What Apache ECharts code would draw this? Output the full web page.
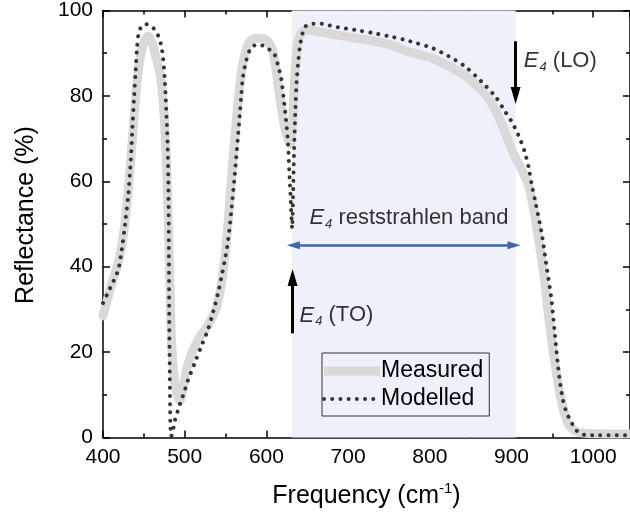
<!DOCTYPE html>
<html>
<head>
<meta charset="utf-8">
<script src="https://cdn.jsdelivr.net/npm/echarts@6/dist/echarts.min.js"></script>
<style>
  html, body { margin: 0; padding: 0; background: #ffffff; }
  #chart { width: 630px; height: 528px; }
</style>
</head>
<body>
<div id="chart"></div>
<script>
// Measured reflectance spectrum (frequency in cm^-1, reflectance in %)
const measuredFreq = [400, 405, 410, 415, 420, 425, 430, 434, 438, 442, 446, 450, 455, 460, 465, 469, 472, 475, 478, 480, 482, 484, 487, 490, 494, 498, 503, 508, 514, 520, 526, 532, 539, 545, 549, 553, 557, 561, 565, 569, 574, 580, 590, 600, 606, 610, 614, 618, 622, 626, 629, 631.5, 633.5, 636, 639, 644, 650, 665, 680, 700, 720, 740, 755, 770, 785, 800, 815, 830, 845, 860, 872, 882, 890, 897, 905, 913, 920, 925, 929, 935, 941, 945, 950, 955, 960, 965, 970, 978, 990, 1045];
const measuredR = [28.5, 32, 35.5, 38.5, 42, 47.5, 56, 65, 75, 84, 89.5, 92.5, 94, 92.5, 89, 86, 82, 75, 63, 50, 35, 22, 14, 10.5, 8.5, 11.5, 16.5, 19.5, 22, 24, 25.5, 27.5, 30.5, 36, 42, 50, 60, 69.5, 78, 85, 90, 92.8, 93.5, 93, 91.5, 88.5, 83, 77.5, 73, 70, 68.7, 72, 80, 88, 93, 95, 95.5, 95, 94.5, 93.8, 93.2, 92.5, 91.8, 90.6, 89.8, 89, 87.8, 86.3, 84.5, 82, 79.3, 76, 72.5, 69, 65.5, 62.5, 59.5, 55.5, 51.5, 44, 36, 29, 21.5, 15, 9.5, 5.5, 3, 1.5, 1, 0.8];

// Modelled reflectance spectrum
const modelledFreq = [400, 405, 410, 415, 419, 423, 427, 431, 434, 436, 438, 440, 441.5, 443.5, 447, 452, 457, 462, 467, 471, 473.5, 475.5, 477.5, 479, 480, 480.6, 481, 481.7, 482.5, 483.5, 486, 488, 492, 496, 500, 504, 512, 520, 528, 535, 541, 546, 550, 553, 557, 561, 565, 569, 571, 575, 581, 589, 598, 604, 610, 614, 618, 622, 626, 628, 630, 631.5, 632.5, 634, 635.5, 637, 639, 641, 644, 648, 656, 667, 677, 687, 697, 713, 734, 752, 770, 783, 803, 823, 843, 863, 880, 892, 900, 908, 916, 921, 925, 929, 937, 943, 949, 953, 957, 960, 963, 967, 972, 977, 982, 990, 1000, 1045];
const modelledR = [31.5, 33.5, 35.5, 37.5, 39.5, 44, 50, 57, 65, 72.5, 79.5, 86, 91, 94.5, 96.2, 96.8, 96.5, 95.8, 94.3, 92, 88.9, 84.2, 76.4, 68.7, 60, 45, 30, 15, 3, 0.3, 2, 4, 6.5, 8.8, 11, 13.4, 17.3, 21.2, 25, 29.5, 34, 38.5, 42.5, 46, 53, 61, 70, 79.5, 84, 88, 91.2, 92, 91.6, 90.8, 89.7, 87.3, 84.2, 78, 70.2, 62.4, 54.7, 49, 56, 68, 77, 83.5, 88, 91.5, 94.5, 96.3, 96.9, 96.9, 96.5, 96.1, 95.8, 95.3, 94.6, 93.9, 93.1, 92.4, 91.2, 89.3, 86.9, 83.4, 79.9, 76.4, 74, 71, 67, 63.2, 59, 55.4, 47.7, 39.9, 32.1, 24.3, 16.5, 12, 8.8, 6, 4, 2.3, 1.2, 0.6, 0.5, 0.5];

// Tick labels
const xTickLabels = [400, 500, 600, 700, 800, 900, 1000];
const yTickLabels = [0, 20, 40, 60, 80, 100];

// E4 mode positions (cm^-1) and the reststrahlen band between them
const e4TO = 631;
const e4LO = 905;

// Annotation arrows: [x1, y1, x2, y2]
const toArrow = [632, 24.4, 632, 37.5];
const loArrow = [905, 92.8, 905, 80.1];
const bandArrow = [633, 45, 903, 45];

// Annotation texts: [x, y, text]
const bandLabel = [774.4, 51.5, '{e|E}{sub|4}{t| reststrahlen band}'];
const toLabel = [640.5, 28.6, '{e|E}{sub|4}{t| (TO)}'];
const loLabel = [915, 88.3, '{e|E}{sub|4}{t| (LO)}'];

const FONT = '"Liberation Sans", Arial, Helvetica, sans-serif';
const DOT_COLOR = '#353535';
const GRAY = '#d9d9d9';
const toPairs = (xs, ys) => xs.map((x, i) => [x, ys[i]]);

const annoRich = {
  e: { fontFamily: FONT, fontSize: 22, fontStyle: 'italic', color: '#000', lineHeight: 26, verticalAlign: 'middle' },
  sub: { fontFamily: FONT, fontSize: 13, fontStyle: 'italic', color: '#000', lineHeight: 26, verticalAlign: 'bottom', padding: [0, 0, 0, 1] },
  t: { fontFamily: FONT, fontSize: 22, color: '#000', lineHeight: 26, verticalAlign: 'middle' }
};

function tickAxis(position, interval, len, showLine) {
  return {
    type: 'value', position: position, min: 400, max: 1045, interval: interval,
    axisLine: { show: showLine, onZero: false, lineStyle: { color: '#000', width: 1.5 } },
    axisTick: { show: true, inside: true, length: len, lineStyle: { color: '#000', width: 1.5 } },
    axisLabel: { show: false }, splitLine: { show: false }
  };
}
function yTickAxis(position, interval, len, showLine) {
  return {
    type: 'value', position: position, min: 0, max: 100, interval: interval,
    axisLine: { show: showLine, onZero: false, lineStyle: { color: '#000', width: 1.5 } },
    axisTick: { show: true, inside: true, length: len, lineStyle: { color: '#000', width: 1.5 } },
    axisLabel: { show: false }, splitLine: { show: false }
  };
}

const chart = echarts.init(document.getElementById('chart'), null, { renderer: 'canvas' });

const option = {
  animation: false,
  backgroundColor: '#ffffff',
  grid: { left: 103, top: 9, width: 529, height: 428.5, containLabel: false },
  legend: {
    orient: 'vertical', left: 322, top: 353,
    padding: [5, 6, 4, 0], itemGap: 2, itemWidth: 56, itemHeight: 14,
    borderColor: '#333', borderWidth: 1, backgroundColor: 'transparent',
    textStyle: { fontFamily: FONT, fontSize: 23, color: '#000', lineHeight: 26, padding: [0, 0, 0, -4] },
    data: [
      { name: 'Measured', icon: 'path://M0,0L56,0L56,9L0,9Z', itemStyle: { color: GRAY } },
      {
        name: 'Modelled',
        itemStyle: { opacity: 0 },
        lineStyle: { color: DOT_COLOR, width: 4, type: [0.01, 8.2], cap: 'round' }
      }
    ]
  },
  xAxis: [
    {
      type: 'value', position: 'bottom', min: 400, max: 1045, interval: 100,
      name: 'Frequency (cm{sup|-1})', nameLocation: 'middle', nameGap: 44,
      nameTextStyle: {
        fontFamily: FONT, fontSize: 25, color: '#000', lineHeight: 30,
        rich: { sup: { fontFamily: FONT, fontSize: 15, color: '#000', verticalAlign: 'top', lineHeight: 16 } }
      },
      axisLine: { show: true, onZero: false, lineStyle: { color: '#000', width: 1.5 } },
      axisTick: { show: true, inside: true, length: 7, lineStyle: { color: '#000', width: 1.5 } },
      axisLabel: {
        fontFamily: FONT, fontSize: 21, color: '#000', margin: 9, showMaxLabel: false,
        formatter: v => (xTickLabels.indexOf(v) >= 0 ? String(v) : '')
      },
      splitLine: { show: false }
    },
    tickAxis('bottom', 50, 4, false),
    tickAxis('top', 100, 7, true),
    tickAxis('top', 50, 4, false)
  ],
  yAxis: [
    {
      type: 'value', position: 'left', min: 0, max: 100, interval: 20,
      name: 'Reflectance (%)', nameLocation: 'middle', nameGap: 64, nameRotate: 90,
      nameTextStyle: { fontFamily: FONT, fontSize: 25, color: '#000', padding: [0, 0, 0, 18] },
      axisLine: { show: true, onZero: false, lineStyle: { color: '#000', width: 1.5 } },
      axisTick: { show: true, inside: true, length: 7, lineStyle: { color: '#000', width: 1.5 } },
      axisLabel: {
        fontFamily: FONT, fontSize: 21, color: '#000', margin: 10,
        formatter: v => (yTickLabels.indexOf(v) >= 0 ? String(v) : '')
      },
      splitLine: { show: false }
    },
    yTickAxis('left', 10, 4, false),
    yTickAxis('right', 20, 7, true),
    yTickAxis('right', 10, 4, false)
  ],
  series: [
    {
      // shaded reststrahlen band
      name: 'band', type: 'line', data: [], z: 1, silent: true,
      markArea: {
        silent: true,
        itemStyle: { color: '#eef0fa' },
        data: [[{ coord: [e4TO, 0] }, { coord: [e4LO, 100] }]]
      }
    },
    {
      name: 'Measured', type: 'line', z: 3,
      data: toPairs(measuredFreq, measuredR),
      symbol: 'none', smooth: 0.3, clip: true,
      itemStyle: { color: GRAY },
      lineStyle: { color: GRAY, width: 9, cap: 'round', join: 'round' }
    },
    {
      name: 'Modelled', type: 'line', z: 4,
      data: toPairs(modelledFreq, modelledR),
      symbol: 'none', smooth: 0.3, clip: true,
      itemStyle: { color: DOT_COLOR },
      lineStyle: { color: DOT_COLOR, width: 4, type: [0.01, 8.2], cap: 'round', join: 'round' }
    },
    {
      name: 'arrows', type: 'line', data: [], z: 5, silent: true,
      markLine: {
        silent: true, animation: false,
        label: { show: false },
        data: [
          [
            { coord: [toArrow[0], toArrow[1]], symbol: 'none', lineStyle: { color: '#000', width: 3, type: 'solid' } },
            { coord: [toArrow[2], toArrow[3]], symbol: 'triangle', symbolSize: [10, 17] }
          ],
          [
            { coord: [loArrow[0], loArrow[1]], symbol: 'none', lineStyle: { color: '#000', width: 3, type: 'solid' } },
            { coord: [loArrow[2], loArrow[3]], symbol: 'triangle', symbolSize: [10, 17] }
          ],
          [
            { coord: [bandArrow[0], bandArrow[1]], symbol: 'triangle', symbolSize: [8, 13], lineStyle: { color: '#3d66ad', width: 2.5, type: 'solid' } },
            { coord: [bandArrow[2], bandArrow[3]], symbol: 'triangle', symbolSize: [8, 13] }
          ]
        ]
      }
    },
    {
      name: 'labels', type: 'scatter', z: 6, silent: true, symbolSize: 0,
      label: { color: '#000' },
      data: [
        { value: [bandLabel[0], bandLabel[1]], label: { show: true, position: 'inside', color: '#000', formatter: bandLabel[2], rich: annoRich } },
        { value: [toLabel[0], toLabel[1]], label: { show: true, position: 'right', distance: 0, color: '#000', formatter: toLabel[2], rich: annoRich } },
        { value: [loLabel[0], loLabel[1]], label: { show: true, position: 'right', distance: 0, color: '#000', formatter: loLabel[2], rich: annoRich } }
      ]
    }
  ]
};

chart.setOption(option);
</script>
</body>
</html>
